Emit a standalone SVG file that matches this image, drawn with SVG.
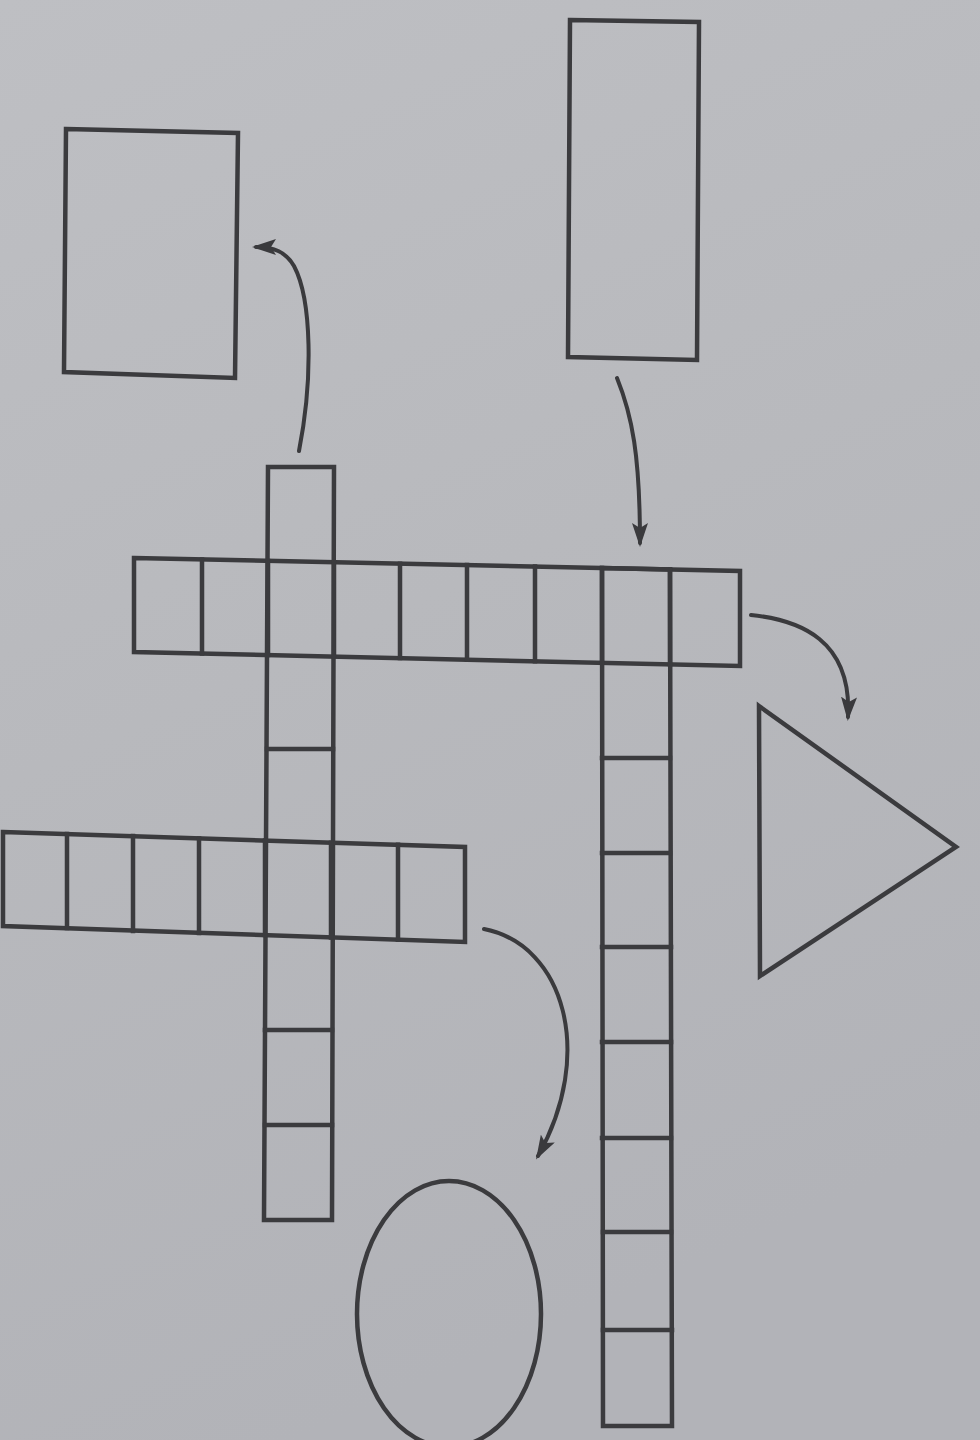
<svg xmlns="http://www.w3.org/2000/svg" width="980" height="1440" viewBox="0 0 980 1440">
  <defs>
    <linearGradient id="paper" x1="0" y1="0" x2="0.3" y2="1">
      <stop offset="0" stop-color="#bebfc3"/>
      <stop offset="0.5" stop-color="#b8b9bd"/>
      <stop offset="1" stop-color="#b2b3b8"/>
    </linearGradient>
    <marker id="head" viewBox="0 0 24 16" refX="20" refY="8" markerWidth="24" markerHeight="16" markerUnits="userSpaceOnUse" orient="auto">
      <path d="M0,0 L24,8 L0,16 L5,8 Z" fill="#3a3a3d"/>
    </marker>
  </defs>
  <style>
    .ln { fill: none; stroke: #3b3b3e; stroke-width: 4.5; stroke-linejoin: miter; stroke-linecap: square; }
    .arr { fill: none; stroke: #3a3a3d; stroke-width: 4; stroke-linecap: round; marker-end: url(#head); }
  </style>
  <rect x="0" y="0" width="980" height="1440" fill="url(#paper)"/>

  <g id="box-top-left">
    <polygon class="ln" points="66,129 238,133 235,378 64,372"/>
  </g>

  <g id="box-top-right">
    <polygon class="ln" points="570,20 699,22 697,360 568,357"/>
  </g>

  <g id="across-1">
    <polygon class="ln" points="134,558 740,571 740,666 134,652"/>
    <path class="ln" d="M202,559.5 L202,653.6 M268,560.9 L268,655.1 M334,562.3 L334,656.6 M400,563.7 L400,658.1 M467,565.1 L467,659.7 M535,566.6 L535,661.3 M602,568 L602,662.8 M670,569.5 L670,664.3"/>
  </g>

  <g id="down-1">
    <polygon class="ln" points="268,467 334,467 332,1220 264,1220"/>
    <path class="ln" d="M267,749 L333,749 M265,1030 L332,1030 M265,1125 L332,1125"/>
  </g>

  <g id="across-2">
    <polygon class="ln" points="3,832 465,847 465,942 3,926"/>
    <path class="ln" d="M67,834 L67,928 M133,836 L133,931 M199,838.4 L199,933 M265,840.5 L265,935 M331,842.7 L331,937.4 M398,844.8 L398,939.7"/>
  </g>

  <g id="down-2">
    <polygon class="ln" points="602,568 670,569.5 672,1426 603,1426"/>
    <path class="ln" d="M602,758 L670,758 M602,853 L670,853 M602,947 L671,947 M602,1042 L671,1042 M602,1138 L671,1138 M603,1232 L671,1232 M603,1330 L672,1330"/>
  </g>

  <g id="triangle">
    <polygon class="ln" points="759,706 956,847 760,976"/>
  </g>

  <g id="ellipse">
    <ellipse class="ln" cx="449" cy="1314" rx="92" ry="133"/>
  </g>

  <g id="connectors">
    <path class="arr" d="M299,451 C313,380 312,300 294,266 C286,252 274,247 256,247"/>
    <path class="arr" d="M617,378 C632,415 640,455 640,543"/>
    <path class="arr" d="M751,615 C800,620 852,640 848,717"/>
    <path class="arr" d="M484,929 C565,945 595,1055 538,1156"/>
  </g>
</svg>
